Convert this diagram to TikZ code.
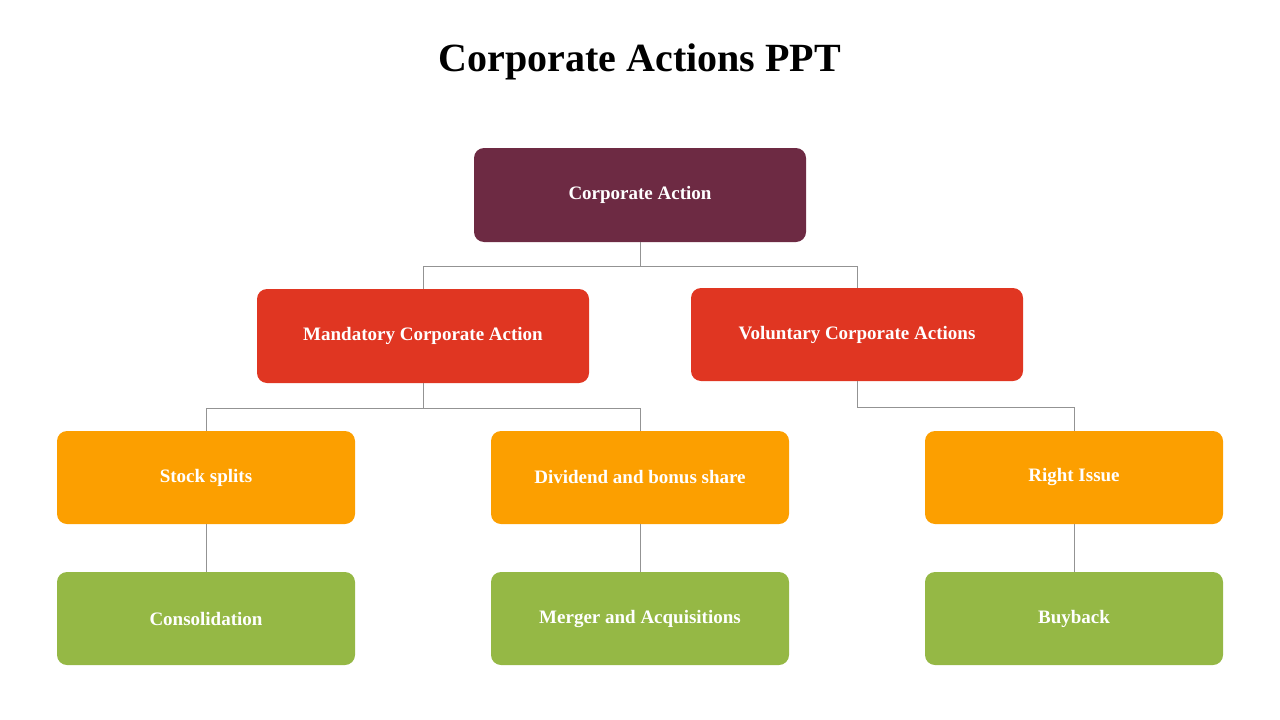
\documentclass[tikz,border=0pt]{standalone}
\usepackage{fontspec}
\setmainfont{Liberation Serif}
\definecolor{cPlum}{HTML}{6D2A43}
\definecolor{cRed}{HTML}{E03622}
\definecolor{cOrange}{HTML}{FC9F00}
\definecolor{cGreen}{HTML}{95B845}
\begin{document}
\begin{tikzpicture}[x=1pt,y=-1pt,
  box/.style={rounded corners=10pt,minimum width=298pt,minimum height=93pt,text=white,font=\bfseries\fontsize{19}{22}\selectfont,inner sep=0pt},
  wide/.style={box,minimum width=332pt,minimum height=94pt},
  conn/.style={draw=gray!85,line width=0.8pt}]
\useasboundingbox (0,0) rectangle (1280,720);
\node[font=\bfseries\fontsize{40}{46}\selectfont] (title) at (640,62) {Corporate Actions PPT};
\node[wide,fill=cPlum] (top) at (640,195) {Corporate Action};
\node[wide,fill=cRed] (mand) at (423,336) {Mandatory Corporate Action};
\node[wide,fill=cRed,minimum height=93pt] (vol) at (857,334.5) {Voluntary Corporate Actions};
\node[box,fill=cOrange] (o1) at (206,477.5) {Stock splits};
\node[box,fill=cOrange] (o2) at (640,477.5) {Dividend and bonus share};
\node[box,fill=cOrange] (o3) at (1074,477.5) {Right Issue};
\node[box,fill=cGreen] (g1) at (206,618.5) {Consolidation};
\node[box,fill=cGreen] (g2) at (640,618.5) {Merger and Acquisitions};
\node[box,fill=cGreen] (g3) at (1074,618.5) {Buyback};
\draw[conn] (top.south) -- ++(0,24) -| (mand.north);
\draw[conn] (top.south) ++(0,24) -| (vol.north);
\draw[conn] (mand.south) -- ++(0,25) -| (o1.north);
\draw[conn] (mand.south) ++(0,25) -| (o2.north);
\draw[conn] (vol.south) -- ++(0,26) -| (o3.north);
\draw[conn] (o1) -- (g1);
\draw[conn] (o2) -- (g2);
\draw[conn] (o3) -- (g3);
\end{tikzpicture}
\end{document}
